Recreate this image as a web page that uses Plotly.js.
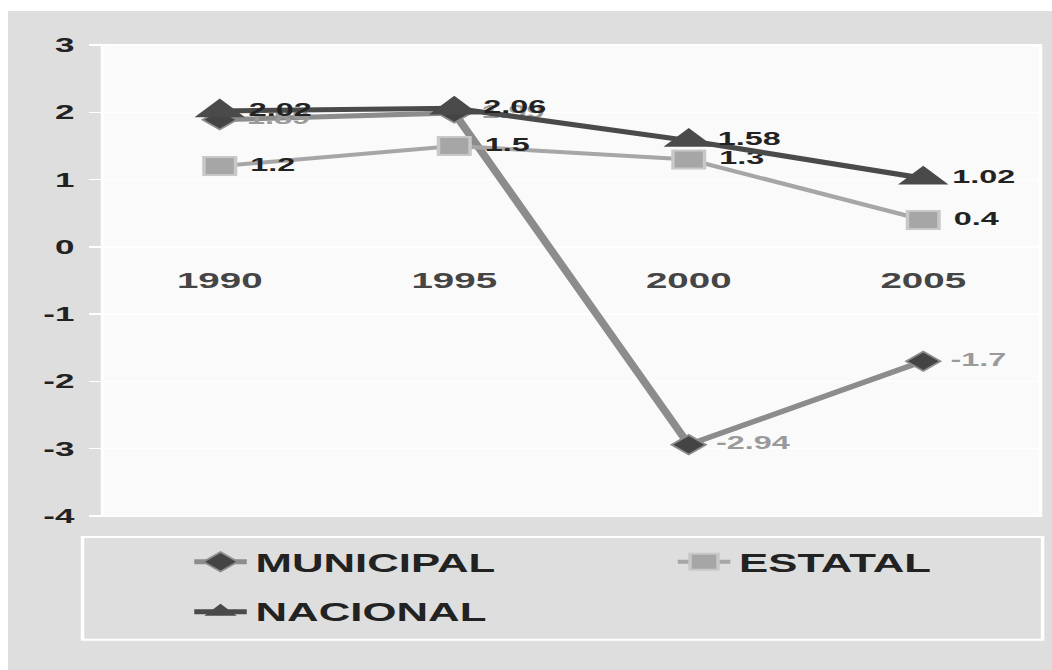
<!DOCTYPE html>
<html><head><meta charset="utf-8">
<script src="https://cdn.plot.ly/plotly-3.0.1.min.js"></script>
<style>
html,body{margin:0;padding:0;background:#fff;width:1052px;height:670px;overflow:hidden}
#wrap{position:absolute;left:8px;top:11px;width:1044px;height:659px;overflow:hidden;background:#dedede}
#chart{position:absolute;left:0;top:0;width:596.57px;height:659px;transform:scaleX(1.75);transform-origin:0 0}
</style></head><body><div id="wrap"><div id="chart"></div></div>
<script>
const years = ['1990', '1995', '2000', '2005'];
const municipal = [1.89, 1.99, -2.94, -1.7];
const estatal = [1.2, 1.5, 1.3, 0.4];
const nacional = [2.02, 2.06, 1.58, 1.02];
const yTicks = [3, 2, 1, 0, -1, -2, -3, -4];
const seriesNames = ['MUNICIPAL', 'ESTATAL', 'NACIONAL'];

const FONT = 'Liberation Sans, Arial, sans-serif';
const lbl = v => v.map(String);
const dataLbl = v => v.map(n => '\u00a0' + String(n));

const traces = [
  {
    name: seriesNames[0], x: years, y: municipal, text: dataLbl(municipal),
    type: 'scatter', mode: 'lines+markers+text', textposition: 'middle right',
    line: {color: '#8c8c8c', width: 5},
    marker: {symbol: 'diamond', size: 15, color: '#444444', line: {color: '#8c8c8c', width: 1.5}},
    textfont: {family: FONT, size: 18.5, color: '#9a9a9a', weight: 'bold'},
    legend: 'legend', cliponaxis: false
  },
  {
    name: seriesNames[1], x: years, y: estatal, text: dataLbl(estatal),
    type: 'scatter', mode: 'lines+markers+text', textposition: 'middle right',
    line: {color: '#a6a6a6', width: 4},
    marker: {symbol: 'square', size: 18, color: '#a6a6a6', line: {color: '#c8c8c8', width: 2}},
    textfont: {family: FONT, size: 18.5, color: '#222222', weight: 'bold'},
    legend: 'legend2', cliponaxis: false
  },
  {
    name: seriesNames[2], x: years, y: nacional, text: lbl(nacional),
    type: 'scatter', mode: 'lines+markers+text', textposition: 'middle right',
    line: {color: '#4a4a4a', width: 5},
    marker: {symbol: 'triangle-up', size: 25, color: '#4a4a4a'},
    textfont: {family: FONT, size: 18.5, color: '#222222', weight: 'bold'},
    legend: 'legend3', cliponaxis: false
  }
];

const legendBase = {
  orientation: 'v', bgcolor: 'rgba(0,0,0,0)', borderwidth: 0,
  font: {family: FONT, size: 25, color: '#222222', weight: 'bold'},
  xanchor: 'left', yanchor: 'middle'
};

const layout = {
  width: 596.57, height: 659,
  margin: {l: 54.3, r: 6.9, t: 34, b: 154, pad: 0},
  paper_bgcolor: '#dedede', plot_bgcolor: '#fafafa',
  showlegend: true,
  xaxis: {
    type: 'category', range: [-0.5, 3.5], anchor: 'free', position: 4 / 7,
    showgrid: false, zeroline: false, showline: false, ticks: '',
    ticklabelstandoff: 18,
    tickfont: {family: FONT, size: 22, color: '#454545', weight: 'bold'},
    fixedrange: true
  },
  yaxis: {
    range: [-4, 3], tickvals: yTicks, ticktext: lbl(yTicks),
    showgrid: true, gridcolor: '#ffffff', gridwidth: 1.5,
    zeroline: true, zerolinecolor: '#ffffff', zerolinewidth: 1.5,
    ticks: 'outside', ticklen: 7, tickcolor: '#ffffff', tickwidth: 1.5,
    ticklabelstandoff: 4,
    tickfont: {family: FONT, size: 20, color: '#222222', weight: 'bold'},
    showline: false, fixedrange: true
  },
  legend: Object.assign({}, legendBase, {x: 0.0885, y: -0.0977}),
  legend2: Object.assign({}, legendBase, {x: 0.604, y: -0.0977}),
  legend3: Object.assign({}, legendBase, {x: 0.0885, y: -0.2038}),
  shapes: [
    {type: 'rect', xref: 'paper', yref: 'paper', x0: 0, x1: 1, y0: 0, y1: 1,
     line: {color: '#ffffff', width: 2}, layer: 'below'},
    {type: 'rect', xref: 'paper', yref: 'paper', x0: -0.0213, x1: 1.0022, y0: -0.0446, y1: -0.263,
     line: {color: '#ffffff', width: 2}, fillcolor: 'rgba(0,0,0,0)', layer: 'above'}
  ]
};

Plotly.newPlot('chart', traces, layout, {displayModeBar: false, staticPlot: true});
</script></body></html>
